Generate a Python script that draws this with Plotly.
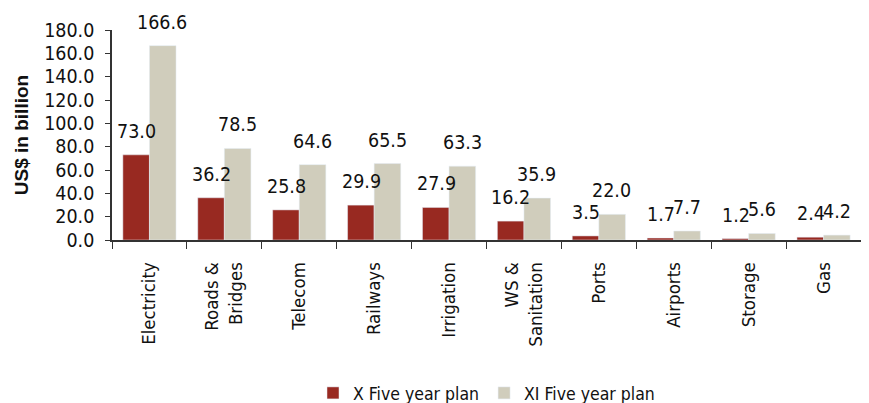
import plotly.graph_objects as go

categories = ["Electricity", "Roads &<br>Bridges", "Telecom", "Railways", "Irrigation",
              "WS &<br>Sanitation", "Ports", "Airports", "Storage", "Gas"]
x_plan = [73.0, 36.2, 25.8, 29.9, 27.9, 16.2, 3.5, 1.7, 1.2, 2.4]
xi_plan = [166.6, 78.5, 64.6, 65.5, 63.3, 35.9, 22.0, 7.7, 5.6, 4.2]
y_ticks = [0, 20, 40, 60, 80, 100, 120, 140, 160, 180]

RED = "#982921"
BEIGE = "#D0CDBC"
FONT = "DejaVu Sans Condensed, Liberation Sans Narrow, sans-serif"

fig = go.Figure()
fig.add_trace(go.Bar(x=categories, y=x_plan, name="X Five year plan", marker_color=RED))
fig.add_trace(go.Bar(x=categories, y=xi_plan, name="XI Five year plan", marker_color=BEIGE))

annotations = []
for c, v in zip(categories, x_plan):
    annotations.append(dict(x=c, y=v, text=f"{v:.1f}", showarrow=False, xshift=-13, yshift=10,
                            yanchor="bottom", font=dict(family=FONT, size=19.5, color="#111")))
for c, v in zip(categories, xi_plan):
    annotations.append(dict(x=c, y=v, text=f"{v:.1f}", showarrow=False, xshift=13, yshift=10,
                            yanchor="bottom", font=dict(family=FONT, size=19.5, color="#111")))

fig.update_layout(
    width=861, height=395,
    margin=dict(l=104, r=8, t=22, b=163, autoexpand=False),
    plot_bgcolor="white", paper_bgcolor="white",
    barmode="group", bargap=0.29, bargroupgap=0,
    annotations=annotations,
    showlegend=True,
    legend=dict(orientation="h", x=0.5, xanchor="center", y=-0.643, yanchor="top",
                font=dict(family=FONT, size=17.5, color="#111"), itemwidth=30),
    font=dict(family=FONT, color="#111"),
)
fig.update_xaxes(
    type="category", tickson="boundaries", ticks="outside", ticklen=7, tickcolor="#333",
    showline=True, linecolor="#333", linewidth=1.5, tickangle=-90, automargin=False,
    ticklabelstandoff=13,
    tickfont=dict(family=FONT, size=18.5, color="#111"), showgrid=False,
)
fig.update_yaxes(
    range=[0, 180], tickvals=y_ticks, ticktext=[f"{t:.1f}" for t in y_ticks],
    ticks="outside", ticklen=5, tickcolor="#333", showline=True, linecolor="#333", linewidth=1.5,
    showgrid=False, zeroline=False, automargin=False, ticklabelstandoff=7,
    tickfont=dict(family=FONT, size=19.5, color="#111"),
    title=dict(text="<b>US$ in billion</b>", font=dict(family="Liberation Sans, Arial, sans-serif", size=19, color="#111"), standoff=10),
)

fig.write_html("out.html")
